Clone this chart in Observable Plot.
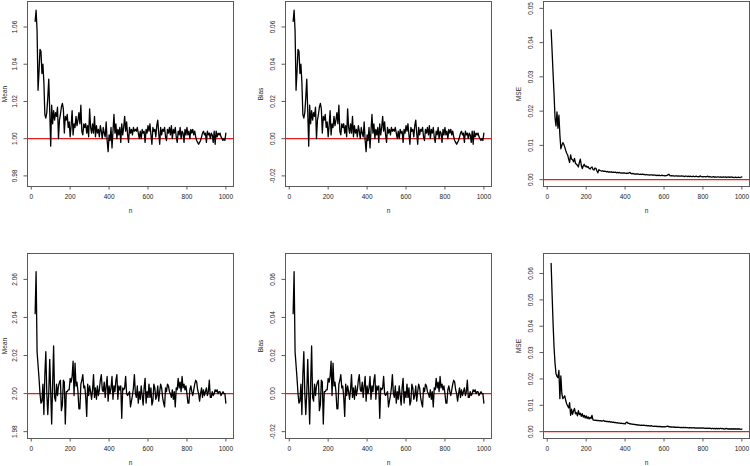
<!DOCTYPE html>
<html>
<head>
<meta charset="utf-8">
<script src="https://cdn.jsdelivr.net/npm/d3@7"></script>
<script src="https://cdn.jsdelivr.net/npm/@observablehq/plot@0.6"></script>
<style>
  html, body { margin: 0; padding: 0; background: #fff; }
  #chart { position: relative; width: 750px; height: 466px; overflow: hidden; background: #fff; }
  #chart svg { position: absolute; max-width: none; }
</style>
</head>
<body>
<div id="chart"></div>
<script>
// sample sizes
const n = [20,25,30,35,40,45,50,55,60,65,70,75,80,85,90,95,
100,105,110,115,120,125,130,135,140,145,150,155,160,165,170,175,180,185,190,195,
200,205,210,215,220,225,230,235,240,245,250,255,260,265,270,275,280,285,290,295,
300,305,310,315,320,325,330,335,340,345,350,355,360,365,370,375,380,385,390,395,
400,405,410,415,420,425,430,435,440,445,450,455,460,465,470,475,480,485,490,495,
500,505,510,515,520,525,530,535,540,545,550,555,560,565,570,575,580,585,590,595,
600,605,610,615,620,625,630,635,640,645,650,655,660,665,670,675,680,685,690,695,
700,705,710,715,720,725,730,735,740,745,750,755,760,765,770,775,780,785,790,795,
800,805,810,815,820,825,830,835,840,845,850,855,860,865,870,875,880,885,890,895,
900,905,910,915,920,925,930,935,940,945,950,955,960,965,970,975,980,985,990,995,1000];

// parameter 1 (true value 1)
const mean1 = [1.063,1.069,1.058,1.026,1.036,1.048,1.047,1.035,1.040,1.030,1.013,1.011,1.014,1.022,1.032,1.015,
0.996,1.018,1.008,1.015,1.010,1.014,1.012,1.017,1.000,1.010,1.013,1.017,1.019,1.016,1.003,1.012,1.010,1.013,1.006,1.009,
1.001,1.007,1.015,1.002,1.008,1.006,1.012,1.007,1.010,1.014,1.008,1.018,1.004,1.002,1.008,1.006,1.008,1.003,1.007,1.001,
1.016,1.006,1.003,1.008,1.003,1.012,1.001,1.007,1.003,1.005,1.001,1.007,1.004,1.000,1.006,1.003,1.001,1.009,0.999,0.993,
1.002,0.999,1.006,0.995,1.004,1.013,1.003,1.008,1.000,1.005,1.002,1.006,0.998,1.008,1.002,1.006,1.012,1.004,1.009,1.002,
0.998,1.006,1.003,1.005,1.002,1.006,1.004,1.005,1.004,1.006,1.003,1.000,1.004,1.000,1.005,1.003,1.004,0.998,1.005,1.003,
1.007,1.004,1.008,1.002,0.997,1.006,1.004,1.005,1.001,1.007,1.010,1.003,0.997,1.006,1.002,1.005,1.004,1.006,1.001,0.999,
1.005,1.003,1.006,1.002,1.007,1.000,1.005,1.003,1.006,1.001,0.998,1.004,1.002,1.006,1.000,1.004,1.003,0.998,1.005,1.002,
1.006,1.002,1.004,1.000,1.005,1.003,1.005,1.002,1.004,1.001,0.999,0.998,0.997,0.998,0.999,1.001,1.003,1.004,1.002,1.003,
0.998,1.004,1.002,1.003,1.000,1.003,1.002,0.998,1.004,0.997,1.004,1.001,1.003,1.002,1.003,1.001,1.000,0.999,1.000,0.999,1.003];

const bias1 = [0.063,0.069,0.058,0.026,0.036,0.048,0.047,0.035,0.040,0.030,0.013,0.011,0.014,0.022,0.032,0.015,
-0.004,0.018,0.008,0.015,0.010,0.014,0.012,0.017,0.000,0.010,0.013,0.017,0.019,0.016,0.003,0.012,0.010,0.013,0.006,0.009,
0.001,0.007,0.015,0.002,0.008,0.006,0.012,0.007,0.010,0.014,0.008,0.018,0.004,0.002,0.008,0.006,0.008,0.003,0.007,0.001,
0.016,0.006,0.003,0.008,0.003,0.012,0.001,0.007,0.003,0.005,0.001,0.007,0.004,0.000,0.006,0.003,0.001,0.009,-0.001,-0.007,
0.002,-0.001,0.006,-0.005,0.004,0.013,0.003,0.008,0.000,0.005,0.002,0.006,-0.002,0.008,0.002,0.006,0.012,0.004,0.009,0.002,
-0.002,0.006,0.003,0.005,0.002,0.006,0.004,0.005,0.004,0.006,0.003,0.000,0.004,0.000,0.005,0.003,0.004,-0.002,0.005,0.003,
0.007,0.004,0.008,0.002,-0.003,0.006,0.004,0.005,0.001,0.007,0.010,0.003,-0.003,0.006,0.002,0.005,0.004,0.006,0.001,-0.001,
0.005,0.003,0.006,0.002,0.007,0.000,0.005,0.003,0.006,0.001,-0.002,0.004,0.002,0.006,0.000,0.004,0.003,-0.002,0.005,0.002,
0.006,0.002,0.004,0.000,0.005,0.003,0.005,0.002,0.004,0.001,-0.001,-0.002,-0.003,-0.002,-0.001,0.001,0.003,0.004,0.002,0.003,
-0.002,0.004,0.002,0.003,0.000,0.003,0.002,-0.002,0.004,-0.003,0.004,0.001,0.003,0.002,0.003,0.001,0.000,-0.001,0.000,-0.001,0.003];

const mse1 = [0.0437,0.0375,0.0310,0.0250,0.0180,0.0157,0.0198,0.0150,0.0188,0.0130,0.0090,0.0100,0.0108,0.0103,0.0095,0.0085,
0.0077,0.0072,0.0060,0.0050,0.0072,0.0060,0.0058,0.0052,0.0062,0.0048,0.0045,0.0042,0.0037,0.0050,0.0060,0.0042,0.0032,0.0040,0.0045,0.0038,
0.0040,0.0036,0.0038,0.0033,0.0031,0.0035,0.0037,0.0030,0.0028,0.0034,0.0033,0.0026,0.0020,0.0029,0.0027,0.0026,0.0025,0.0026,0.0024,0.0025,
0.0024,0.0023,0.0024,0.0022,0.0023,0.0022,0.0023,0.0021,0.0022,0.0021,0.0022,0.0020,0.0021,0.0020,0.0021,0.0020,0.0019,0.0020,0.0019,0.0020,
0.0019,0.0018,0.0019,0.0018,0.0020,0.0021,0.0018,0.0017,0.0018,0.0017,0.0016,0.0017,0.0016,0.0017,0.0016,0.0015,0.0016,0.0015,0.0016,0.0015,
0.0015,0.0014,0.0015,0.0014,0.0014,0.0013,0.0014,0.0014,0.0013,0.0014,0.0013,0.0013,0.0012,0.0013,0.0012,0.0013,0.0012,0.0012,0.0013,0.0012,
0.0012,0.0011,0.0012,0.0012,0.0014,0.0016,0.0012,0.0011,0.0012,0.0011,0.0011,0.0010,0.0011,0.0011,0.0010,0.0011,0.0010,0.0010,0.0011,0.0010,
0.0010,0.0009,0.0010,0.0010,0.0009,0.0010,0.0009,0.0010,0.0009,0.0009,0.0010,0.0009,0.0009,0.0010,0.0009,0.0009,0.0008,0.0011,0.0009,0.0009,
0.0008,0.0009,0.0009,0.0008,0.0009,0.0010,0.0008,0.0009,0.0008,0.0007,0.0008,0.0009,0.0007,0.0008,0.0007,0.0008,0.0008,0.0007,0.0008,0.0007,
0.0007,0.0008,0.0007,0.0008,0.0007,0.0007,0.0008,0.0007,0.0007,0.0008,0.0007,0.0007,0.0006,0.0007,0.0007,0.0006,0.0007,0.0007,0.0006,0.0007,0.0008];

// parameter 2 (true value 2)
const mean2 = [2.042,2.064,2.022,2.015,2.008,2.000,1.995,1.996,2.005,1.989,2.010,2.022,2.000,1.989,2.000,2.018,
2.001,1.984,2.005,2.025,1.998,1.996,2.005,1.999,2.004,2.006,2.007,1.991,1.994,2.007,2.006,1.984,2.001,2.001,2.002,2.002,
2.008,2.006,2.009,2.017,1.999,2.016,2.004,2.006,2.001,1.992,1.992,2.005,2.007,2.010,2.003,2.004,1.998,1.988,2.005,1.999,
2.004,2.001,1.997,2.002,2.010,1.998,2.003,1.997,2.004,1.999,2.002,2.007,2.010,2.002,2.001,2.006,1.998,2.004,2.009,1.996,
2.004,2.000,2.003,2.009,1.997,2.004,2.001,2.007,2.010,1.997,2.004,2.002,2.004,1.987,2.003,2.002,2.003,2.009,2.000,1.999,
2.000,2.001,1.993,1.996,1.999,2.003,2.010,2.000,1.998,2.004,1.995,2.001,1.997,2.004,1.999,1.994,2.003,2.008,1.995,2.001,
1.998,2.005,1.998,2.003,1.994,1.996,2.005,2.003,1.997,1.999,2.004,1.996,2.001,2.005,2.003,1.998,1.995,1.993,2.003,2.001,
2.005,2.004,2.001,2.000,1.998,2.002,1.997,2.001,1.993,2.003,2.002,2.008,2.003,2.006,2.001,2.009,2.003,2.005,2.002,2.004,
2.000,1.995,1.995,2.002,2.004,2.001,1.999,2.002,2.005,2.007,2.006,2.002,2.000,1.996,2.000,2.003,1.998,2.002,1.999,2.001,
2.003,1.999,2.001,2.007,1.998,1.998,2.001,1.999,2.000,2.002,2.001,2.002,2.000,2.001,2.001,1.999,2.000,2.001,2.000,2.000,1.995];

const bias2 = [0.042,0.064,0.022,0.015,0.008,0.000,-0.005,-0.004,0.005,-0.011,0.010,0.022,0.000,-0.011,0.000,0.018,
0.001,-0.016,0.005,0.025,-0.002,-0.004,0.005,-0.001,0.004,0.006,0.007,-0.009,-0.006,0.007,0.006,-0.016,0.001,0.001,0.002,0.002,
0.008,0.006,0.009,0.017,-0.001,0.016,0.004,0.006,0.001,-0.008,-0.008,0.005,0.007,0.010,0.003,0.004,-0.002,-0.012,0.005,-0.001,
0.004,0.001,-0.003,0.002,0.010,-0.002,0.003,-0.003,0.004,-0.001,0.002,0.007,0.010,0.002,0.001,0.006,-0.002,0.004,0.009,-0.004,
0.004,0.000,0.003,0.009,-0.003,0.004,0.001,0.007,0.010,-0.003,0.004,0.002,0.004,-0.013,0.003,0.002,0.003,0.009,0.000,-0.001,
0.000,0.001,-0.007,-0.004,-0.001,0.003,0.010,0.000,-0.002,0.004,-0.005,0.001,-0.003,0.004,-0.001,-0.006,0.003,0.008,-0.005,0.001,
-0.002,0.005,-0.002,0.003,-0.006,-0.004,0.005,0.003,-0.003,-0.001,0.004,-0.004,0.001,0.005,0.003,-0.002,-0.005,-0.007,0.003,0.001,
0.005,0.004,0.001,0.000,-0.002,0.002,-0.003,0.001,-0.007,0.003,0.002,0.008,0.003,0.006,0.001,0.009,0.003,0.005,0.002,0.004,
0.000,-0.005,-0.005,0.002,0.004,0.001,-0.001,0.002,0.005,0.007,0.006,0.002,0.000,-0.004,0.000,0.003,-0.002,0.002,-0.001,0.001,
0.003,-0.001,0.001,0.007,-0.002,-0.002,0.001,-0.001,0.000,0.002,0.001,0.002,0.000,0.001,0.001,-0.001,0.000,0.001,0.000,0.000,-0.005];

const mse2 = [0.0638,0.0520,0.0410,0.0320,0.0260,0.0220,0.0210,0.0205,0.0232,0.0125,0.0212,0.0145,0.0125,0.0130,0.0136,0.0118,
0.0105,0.0098,0.0090,0.0110,0.0062,0.0085,0.0066,0.0078,0.0088,0.0068,0.0072,0.0060,0.0080,0.0065,0.0070,0.0058,0.0068,0.0055,0.0062,0.0052,
0.0060,0.0050,0.0056,0.0048,0.0054,0.0050,0.0062,0.0045,0.0044,0.0043,0.0044,0.0042,0.0043,0.0042,0.0041,0.0042,0.0040,0.0041,0.0043,0.0039,
0.0040,0.0038,0.0039,0.0037,0.0039,0.0036,0.0037,0.0035,0.0036,0.0034,0.0035,0.0033,0.0034,0.0032,0.0033,0.0031,0.0032,0.0031,0.0030,0.0031,
0.0029,0.0034,0.0036,0.0031,0.0032,0.0029,0.0030,0.0028,0.0029,0.0027,0.0028,0.0026,0.0027,0.0025,0.0026,0.0025,0.0024,0.0025,0.0024,0.0025,
0.0024,0.0023,0.0024,0.0022,0.0023,0.0022,0.0021,0.0023,0.0021,0.0020,0.0021,0.0020,0.0021,0.0019,0.0020,0.0019,0.0020,0.0018,0.0019,0.0018,
0.0019,0.0018,0.0019,0.0020,0.0021,0.0018,0.0019,0.0017,0.0018,0.0017,0.0018,0.0016,0.0017,0.0016,0.0017,0.0016,0.0016,0.0015,0.0016,0.0015,
0.0016,0.0015,0.0016,0.0015,0.0015,0.0014,0.0015,0.0014,0.0015,0.0014,0.0014,0.0015,0.0013,0.0014,0.0013,0.0014,0.0013,0.0014,0.0013,0.0014,
0.0013,0.0014,0.0012,0.0013,0.0012,0.0013,0.0012,0.0013,0.0012,0.0011,0.0013,0.0011,0.0012,0.0011,0.0012,0.0011,0.0012,0.0011,0.0013,0.0011,
0.0012,0.0011,0.0010,0.0011,0.0012,0.0011,0.0010,0.0011,0.0010,0.0011,0.0010,0.0011,0.0010,0.0011,0.0010,0.0010,0.0011,0.0010,0.0010,0.0009,0.0010];

// axis ticks
const xTicks = [0, 200, 400, 600, 800, 1000];
const yTicksMean1 = [0.98, 1.00, 1.02, 1.04, 1.06];
const yTicksBias = [-0.02, 0.00, 0.02, 0.04, 0.06];
const yTicksMse1 = [0.00, 0.01, 0.02, 0.03, 0.04, 0.05];
const yTicksMean2 = [1.98, 2.00, 2.02, 2.04, 2.06];
const yTicksMse2 = [0.00, 0.01, 0.02, 0.03, 0.04, 0.05, 0.06];

const panels = [
  {col: 0, row: 0, values: mean1, ref: 1, dom: [0.9743, 1.0737], ticks: yTicksMean1, label: "Mean"},
  {col: 1, row: 0, values: bias1, ref: 0, dom: [-0.0257, 0.0737], ticks: yTicksBias, label: "Bias"},
  {col: 2, row: 0, values: mse1, ref: 0, dom: [-0.0020, 0.0520], ticks: yTicksMse1, label: "MSE"},
  {col: 0, row: 1, values: mean2, ref: 2, dom: [1.9764, 2.0736], ticks: yTicksMean2, label: "Mean"},
  {col: 1, row: 1, values: bias2, ref: 0, dom: [-0.0236, 0.0736], ticks: yTicksBias, label: "Bias"},
  {col: 2, row: 1, values: mse2, ref: 0, dom: [-0.0026, 0.0676], ticks: yTicksMse2, label: "MSE"}
];

const frameLeft = [27, 284.5, 542.5];
const frameTop = [0.5, 252.8];
const yLabelOffset = [25, 27.5, 27.5];
const mL = 40, mR = 5, mT = 5, mB = 35, fW = 206, fH = 185;
const chart = document.getElementById("chart");

for (const p of panels) {
  const len = Math.min(n.length, p.values.length);
  const rows = [];
  for (let i = 0; i < len; i++) rows.push({n: n[i], v: p.values[i]});
  const svg = Plot.plot({
    width: mL + fW + mR,
    height: mT + fH + mB,
    marginLeft: mL, marginRight: mR, marginTop: mT, marginBottom: mB,
    style: {fontFamily: "'Liberation Sans', Arial, Helvetica, sans-serif", fontSize: "6.5px", color: "#222", background: "transparent", overflow: "visible"},
    x: {domain: [-19.2, 1039.2]},
    y: {domain: p.dom},
    marks: [
      Plot.ruleY([p.ref], {stroke: "#e0201e", strokeWidth: 1.1}),
      Plot.line(rows, {x: "n", y: "v", stroke: "#000", strokeWidth: 1.3}),
      Plot.frame({stroke: "#5a5a5a", strokeWidth: 1}),
      Plot.axisX({ticks: xTicks, tickSize: 3.5, tickPadding: 4, stroke: "#5a5a5a", tickFormat: d => String(d),
                  label: "n", labelAnchor: "center", labelArrow: "none", labelOffset: 26}),
      Plot.axisY({ticks: p.ticks, tickSize: 3.5, tickPadding: 7, tickRotate: -90, stroke: "#5a5a5a",
                  tickFormat: d => d.toFixed(2), label: p.label, labelAnchor: "center", labelArrow: "none",
                  labelOffset: yLabelOffset[p.col]})
    ]
  });
  svg.style.left = (frameLeft[p.col] - mL) + "px";
  svg.style.top = (frameTop[p.row] - mT) + "px";
  chart.appendChild(svg);
}
</script>
</body>
</html>
